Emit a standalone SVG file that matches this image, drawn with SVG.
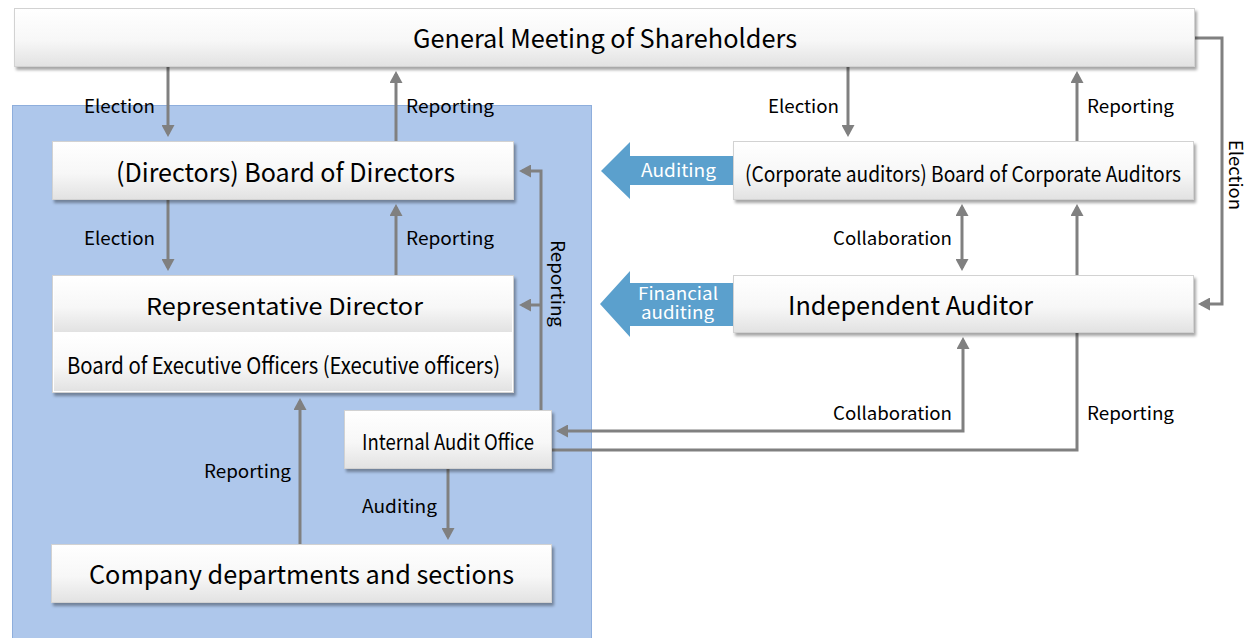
<svg xmlns="http://www.w3.org/2000/svg" width="1254" height="638" viewBox="0 0 1254 638">
<defs>
<linearGradient id="g" x1="0" y1="0" x2="0" y2="1">
<stop offset="0" stop-color="#ffffff"/>
<stop offset="0.55" stop-color="#f7f7f7"/>
<stop offset="1" stop-color="#e2e2e2"/>
</linearGradient>
<filter id="sh" x="-5%" y="-20%" width="110%" height="150%">
<feDropShadow dx="2" dy="3" stdDeviation="1.6" flood-color="#000" flood-opacity="0.35"/>
</filter>
<marker id="ah" viewBox="0 0 12 13" refX="9" refY="6.5" markerWidth="12" markerHeight="13" markerUnits="userSpaceOnUse" orient="auto-start-reverse">
<path d="M0,0 L12,6.5 L0,13 z" fill="#808080"/>
</marker>
</defs>
<style>
.box{fill:url(#g);stroke:#d2d2d2;stroke-width:1;filter:url(#sh)}
.inner{fill:url(#g);stroke:none}
.t{font-family:"Noto Sans CJK JP","Noto Sans",sans-serif;fill:#000;text-anchor:middle}
.big{font-size:26px}
.mid{font-size:23px}
.mid2{font-size:22px}
.lab{font-size:18px}
.fa{font-size:17px}
.wl{fill:#ffffff}
.c{fill:none;stroke:#808080;stroke-width:3}
.ce{fill:none;stroke:#808080;stroke-width:3;marker-end:url(#ah)}
.cb{fill:none;stroke:#808080;stroke-width:3;marker-end:url(#ah);marker-start:url(#ah)}
.blk{fill:#5ba0cd}
</style>
<rect x="0" y="0" width="1254" height="638" fill="#ffffff"/>
<rect id="company-panel" x="12.5" y="105.5" width="579" height="540" fill="#aec7eb" stroke="#8eaedc" stroke-width="1"/>

<g id="connectors">
<path class="ce" d="M168 67 V134"/>
<text class="t lab" x="119.5" y="113" textLength="71" lengthAdjust="spacingAndGlyphs">Election</text>
<path class="ce" d="M396 141 V74"/>
<text class="t lab" x="450" y="113" textLength="88" lengthAdjust="spacingAndGlyphs">Reporting</text>
<path class="ce" d="M168 200 V268"/>
<text class="t lab" x="119.5" y="245" textLength="71" lengthAdjust="spacingAndGlyphs">Election</text>
<path class="ce" d="M396 275 V207"/>
<text class="t lab" x="450" y="245" textLength="88" lengthAdjust="spacingAndGlyphs">Reporting</text>
<path class="ce" d="M541 410 V171 H522"/>
<path class="ce" d="M541 305 H522"/>
<text class="t lab" x="283.5" y="-551" transform="rotate(90)" textLength="87" lengthAdjust="spacingAndGlyphs">Reporting</text>
<path class="ce" d="M300 545 V401"/>
<text class="t lab" x="247.5" y="478" textLength="87" lengthAdjust="spacingAndGlyphs">Reporting</text>
<path class="ce" d="M448 469 V537"/>
<text class="t lab" x="399.5" y="513" textLength="75" lengthAdjust="spacingAndGlyphs">Auditing</text>
<path class="ce" d="M848 67 V134"/>
<text class="t lab" x="803.5" y="113" textLength="71" lengthAdjust="spacingAndGlyphs">Election</text>
<path class="ce" d="M1077 141 V74"/>
<text class="t lab" x="1130.5" y="113" textLength="87" lengthAdjust="spacingAndGlyphs">Reporting</text>
<path class="cb" d="M962 207 V268"/>
<text class="t lab" x="892.5" y="245" textLength="119" lengthAdjust="spacingAndGlyphs">Collaboration</text>
<path class="ce" d="M1195 38 H1222 V304 H1201"/>
<text class="t lab" x="175" y="-1229" transform="rotate(90)" textLength="70" lengthAdjust="spacingAndGlyphs">Election</text>
<path class="cb" d="M963 340 V431 H559"/>
<text class="t lab" x="892.5" y="420" textLength="119" lengthAdjust="spacingAndGlyphs">Collaboration</text>
<path class="ce" d="M552 450 H1077 V207"/>
<text class="t lab" x="1130.5" y="420" textLength="87" lengthAdjust="spacingAndGlyphs">Reporting</text>
</g>

<g id="auditing-arrow">
<polygon class="blk" points="601,171 630,142 630,156 733,156 733,185 630,185 630,199"/>
<text class="t lab wl" x="678.5" y="177" textLength="75" lengthAdjust="spacingAndGlyphs">Auditing</text>
</g>
<g id="financial-auditing-arrow">
<polygon class="blk" points="600,304 630,271 630,283 733,283 733,326 630,326 630,337"/>
<text class="t fa wl" x="678" y="300" textLength="80" lengthAdjust="spacingAndGlyphs">Financial</text>
<text class="t fa wl" x="677.5" y="319" textLength="73" lengthAdjust="spacingAndGlyphs">auditing</text>
</g>

<g id="general-meeting">
<rect class="box" x="14.5" y="8.5" width="1180" height="58"/>
<text class="t big" x="605" y="48" textLength="384" lengthAdjust="spacingAndGlyphs">General Meeting of Shareholders</text>
</g>
<g id="board-of-directors">
<rect class="box" x="52.5" y="141.5" width="461" height="58"/>
<text class="t big" x="285.5" y="182" textLength="339" lengthAdjust="spacingAndGlyphs">(Directors) Board of Directors</text>
</g>
<g id="representative-director">
<rect x="52.5" y="275.5" width="461" height="117" fill="#ffffff" stroke="#d2d2d2" filter="url(#sh)"/>
<rect class="inner" x="54" y="277" width="458" height="55"/>
<rect class="inner" x="54" y="336" width="458" height="55"/>
<text class="t mid" x="284.5" y="315" textLength="277" lengthAdjust="spacingAndGlyphs">Representative Director</text>
<text class="t mid" x="283.5" y="374" textLength="433" lengthAdjust="spacingAndGlyphs">Board of Executive Officers (Executive officers)</text>
</g>
<g id="internal-audit-office">
<rect class="box" x="344.5" y="410.5" width="207" height="58"/>
<text class="t mid2" x="448" y="450" textLength="172" lengthAdjust="spacingAndGlyphs">Internal Audit Office</text>
</g>
<g id="company-departments">
<rect class="box" x="51.5" y="544.5" width="500" height="58"/>
<text class="t big" x="301.5" y="584" textLength="425" lengthAdjust="spacingAndGlyphs">Company departments and sections</text>
</g>
<g id="board-of-corporate-auditors">
<rect class="box" x="733.5" y="141.5" width="460" height="58"/>
<text class="t mid2" x="963" y="182" textLength="436" lengthAdjust="spacingAndGlyphs">(Corporate auditors) Board of Corporate Auditors</text>
</g>
<g id="independent-auditor">
<rect class="box" x="733.5" y="275.5" width="460" height="57"/>
<text class="t big" x="910.5" y="315" textLength="245" lengthAdjust="spacingAndGlyphs">Independent Auditor</text>
</g>
</svg>
